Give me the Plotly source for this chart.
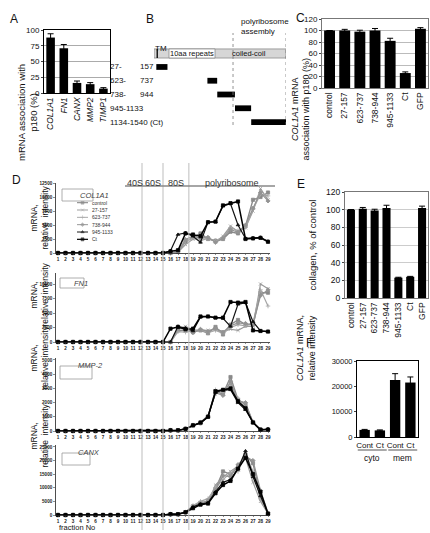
import plotly.graph_objects as go

W, H = 430, 533
FONT = "Liberation Sans, Arial, sans-serif"

def xp(px):
    return px / W

def yp(py):
    return 1 - py / H

# ---------------- DATA ----------------
# Panel A
a_genes = ["COL1A1", "FN1", "CANX", "MMP2", "TIMP1"]
a_vals = [88, 71, 16, 14, 7]
a_errs = [6, 6, 3, 2.5, 1.5]

# Panel B (residue numbers)
b_frag_start = [27, 623, 738, 945, 1134]
b_frag_end = [157, 737, 944, 1133, 1540]
b_label_start = ["27-", "623-", "738-", "945-1133", "1134-1540 (Ct)"]
b_label_end = ["157", "737", "944", "", ""]
b_protein_len = 1540
b_tm = [30, 45]
b_repeats = [175, 712]
b_assembly = [922, 1540]

# Panel C
c_cats = ["control", "27-157", "623-737", "738-944", "945-1133", "Ct", "GFP"]
c_vals = [100, 100, 98, 100, 82, 26, 103]
c_errs = [0, 2, 2.5, 3.5, 4.5, 2, 2]

# Panel E
e_cats = ["control", "27-157", "623-737", "738-944", "945-1133", "Ct", "GFP"]
e_vals = [100, 101, 99, 102, 23, 24, 102]
e_errs = [0, 1.5, 1.5, 3, 0.5, 0.5, 2]

# Panel F
f_labels = ["Cont", "Ct", "Cont", "Ct"]
f_groups = ["cyto", "mem"]
f_vals = [2800, 2600, 22500, 21500]
f_errs = [200, 200, 2500, 2200]

# Panel D
fractions = list(range(1, 30))
series = ["control", "27-157", "623-737", "738-944", "945-1133", "Ct"]
Z15 = [0] * 15

col1a1 = {
    "control":  Z15 + [0, 200, 2000, 2800, 3500, 2500, 2200, 2500, 3800, 3500, 4800, 9500, 10000, 10800],
    "27-157":   Z15 + [0, 150, 1500, 2500, 2800, 2700, 2000, 3000, 4800, 3800, 4500, 7500, 11500, 9500],
    "623-737":  Z15 + [0, 200, 2200, 2600, 2200, 2600, 2200, 2800, 4500, 4000, 4600, 7800, 10500, 10200],
    "738-944":  Z15 + [0, 250, 2400, 3000, 2600, 2800, 1900, 2600, 4200, 3700, 5000, 8000, 10800, 9300],
    "945-1133": Z15 + [400, 3300, 3600, 3000, 1900, 5500, 5600, 8400, 8800, 5000, 2600, 2700, 2800, 2100],
    "Ct":       Z15 + [300, 500, 3500, 3300, 3000, 5500, 5600, 8500, 8900, 9200, 2500, 2600, 2700, 2000],
}
fn1 = {
    "control":  Z15 + [0, 2000, 2000, 1700, 2000, 1500, 2600, 1300, 3000, 3800, 3000, 3000, 8500, 8500],
    "27-157":   Z15 + [0, 2200, 2700, 2100, 2000, 2000, 2200, 1800, 2200, 2000, 2700, 2700, 10000, 9200],
    "623-737":  Z15 + [0, 1800, 1700, 1900, 2100, 1600, 2000, 1500, 2500, 3000, 2800, 3300, 9000, 6200],
    "738-944":  Z15 + [0, 2400, 2200, 1600, 2200, 1800, 2400, 1700, 2800, 3300, 3200, 3000, 8000, 9000],
    "945-1133": Z15 + [0, 2700, 2400, 1900, 4300, 4400, 4200, 4100, 2700, 6500, 6800, 3500, 1900, 1800],
    "Ct":       Z15 + [2300, 2600, 2200, 2300, 4400, 4400, 4200, 4200, 6900, 6800, 6900, 2000, 1900, 1800],
}
mmp2 = {
    "control":  Z15 + [50, 50, 150, 400, 550, 1000, 2800, 2600, 3800, 2200, 1900, 600, 100, 100],
    "27-157":   Z15 + [50, 50, 150, 380, 600, 1100, 2600, 2900, 3300, 2000, 1700, 600, 100, 100],
    "623-737":  Z15 + [50, 50, 150, 420, 550, 1000, 2900, 2700, 3100, 2300, 1600, 650, 80, 120],
    "738-944":  Z15 + [50, 50, 150, 400, 600, 1050, 2700, 2500, 3500, 2100, 2000, 600, 100, 100],
    "945-1133": Z15 + [50, 50, 150, 400, 550, 1000, 2700, 2900, 2900, 2000, 1500, 600, 50, 150],
    "Ct":       Z15 + [50, 50, 150, 400, 600, 1000, 2800, 2900, 3000, 2100, 1600, 600, 100, 100],
}
canx = {
    "control":  Z15 + [300, 300, 1000, 3200, 4500, 5000, 9500, 16000, 15000, 17500, 22000, 19000, 7000, 500],
    "27-157":   Z15 + [300, 300, 1000, 2800, 4200, 4800, 11000, 14000, 16000, 18000, 21000, 12000, 5000, 500],
    "623-737":  Z15 + [300, 300, 1000, 3500, 5000, 6000, 10000, 13000, 15500, 16000, 22500, 16000, 6000, 500],
    "738-944":  Z15 + [300, 300, 1000, 3000, 4300, 5200, 9000, 14500, 14000, 18500, 21500, 20000, 9000, 800],
    "945-1133": Z15 + [300, 300, 1000, 3000, 4000, 4500, 8500, 12000, 13000, 17000, 23500, 14000, 7000, 500],
    "Ct":       Z15 + [300, 300, 1000, 2500, 3800, 4200, 8000, 11000, 12500, 17000, 21000, 15000, 8500, 500],
}
d_genes = ["COL1A1", "FN1", "MMP-2", "CANX"]
d_data = [col1a1, fn1, mmp2, canx]
d_ymax = [12500, 11900, 5140, 25700]
d_dtick = [2500, 2500, 1000, 5000]
d_bounds = [12.2, 15.0, 18.45]
d_regions = ["40S", "60S", "80S", "polyribosome"]

# ---------------- STYLE ----------------
sty = {
    "control":  dict(color="#8a8a8a", symbol="square", width=1.4),
    "27-157":   dict(color="#9a9a9a", symbol="x-thin-open", width=1.2),
    "623-737":  dict(color="#a5a5a5", symbol="cross-thin-open", width=1.2),
    "738-944":  dict(color="#939393", symbol="diamond", width=1.2),
    "945-1133": dict(color="#111111", symbol="triangle-up", width=1.2),
    "Ct":       dict(color="#000000", symbol="square", width=1.5),
}

fig = go.Figure()
layout = dict(width=W, height=H, autosize=False,
              margin=dict(l=0, r=0, t=0, b=0, pad=0, autoexpand=False),
              paper_bgcolor="white", plot_bgcolor="white", showlegend=False,
              font=dict(family=FONT, color="#111", size=8), bargap=0.35)
annotations = []
shapes = []

# ---------- Panel A ----------
fig.add_trace(go.Bar(x=a_genes, y=a_vals, marker_color="black", marker_line_width=0,
                     error_y=dict(type="data", array=a_errs, color="black", thickness=1, width=3),
                     xaxis="x", yaxis="y"))
layout["xaxis"] = dict(domain=[xp(44), xp(110)], anchor="y", tickangle=-90,
                       tickvals=a_genes, ticktext=[f"<i>{g}</i>" for g in a_genes],
                       tickfont=dict(size=8.5), showline=True, linecolor="black", mirror=True,
                       ticks="", fixedrange=True, automargin=False)
layout["yaxis"] = dict(domain=[yp(93), yp(30)], anchor="x", range=[0, 100], dtick=25,
                       showline=True, linecolor="black", mirror=True, showgrid=True,
                       gridcolor="#888", gridwidth=0.7, ticks="outside", ticklen=2,
                       tickfont=dict(size=8), zeroline=False, automargin=False)
annotations.append(dict(text="mRNA association with<br>p180 (%)", textangle=-90, x=xp(14), y=yp(62),
                        xref="paper", yref="paper", showarrow=False, font=dict(size=9.5)))

# ---------- Panel B ----------
fig.add_trace(go.Bar(orientation="h", y=list(range(1, 6)),
                     x=[e - s for s, e in zip(b_frag_start, b_frag_end)], base=b_frag_start,
                     width=0.42, marker_color="black", marker_line_width=0, xaxis="x2", yaxis="y2"))
layout["xaxis2"] = dict(domain=[xp(154), xp(286)], anchor="y2", range=[0, b_protein_len],
                        visible=False, fixedrange=True, automargin=False)
layout["yaxis2"] = dict(domain=[yp(130), yp(40)], anchor="x2", range=[5.58, -0.96],
                        visible=False, fixedrange=True, automargin=False)
shapes.append(dict(type="rect", xref="x2", yref="y2", x0=0, x1=b_protein_len, y0=-0.31, y1=0.35,
                   fillcolor="#d6d6d6", line=dict(color="#8a8a8a", width=0.8), layer="below"))
shapes.append(dict(type="rect", xref="x2", yref="y2", x0=b_repeats[0], x1=b_repeats[1], y0=-0.31, y1=0.35,
                   fillcolor="white", line=dict(color="#8a8a8a", width=0.8), layer="below"))
shapes.append(dict(type="rect", xref="x2", yref="y2", x0=b_tm[0], x1=b_tm[1], y0=-0.31, y1=0.35,
                   fillcolor="black", line=dict(width=0), layer="below"))
for xv in b_assembly:
    shapes.append(dict(type="line", xref="x2", yref="paper", x0=xv, x1=xv, y0=yp(125), y1=yp(33),
                       line=dict(color="#777", width=0.8, dash="dot")))
annotations.append(dict(text="10aa repeats", x=(b_repeats[0] + b_repeats[1]) / 2, y=0.02, xref="x2", yref="y2",
                        showarrow=False, borderpad=0, font=dict(size=7.5)))
annotations.append(dict(text="coiled-coil", x=1110, y=0.02, xref="x2", yref="y2",
                        showarrow=False, borderpad=0, font=dict(size=7.5)))
annotations.append(dict(text="TM", x=xp(154), y=yp(43), xref="paper", yref="paper", xanchor="left",
                        showarrow=False, borderpad=0, font=dict(size=8)))
annotations.append(dict(text="polyribosome<br>assembly", x=xp(240), y=yp(37), xref="paper", yref="paper",
                        xanchor="left", yanchor="bottom", align="left", showarrow=False, borderpad=0,
                        font=dict(size=8)))
for i, (ls, le) in enumerate(zip(b_label_start, b_label_end)):
    annotations.append(dict(text=ls, x=xp(108), y=i + 1, xref="paper", yref="y2", xanchor="left",
                            showarrow=False, font=dict(size=8)))
    if le:
        annotations.append(dict(text=le, x=xp(156), y=i + 1, xref="paper", yref="y2", xanchor="right",
                                showarrow=False, font=dict(size=8)))

# ---------- Panel C ----------
fig.add_trace(go.Bar(x=c_cats, y=c_vals, marker_color="black", marker_line_width=0, width=0.72,
                     error_y=dict(type="data", array=c_errs, color="black", thickness=1, width=3),
                     xaxis="x3", yaxis="y3"))
layout["xaxis3"] = dict(domain=[xp(322), xp(428)], anchor="y3", tickangle=-90, tickfont=dict(size=8.5),
                        showline=True, linecolor="#777", mirror=True, ticks="", fixedrange=True,
                        automargin=False)
layout["yaxis3"] = dict(domain=[yp(88), yp(19)], anchor="x3", range=[0, 120], dtick=20,
                        showline=True, linecolor="#777", mirror=True, showgrid=True, gridcolor="#bbb",
                        ticks="outside", ticklen=2, tickfont=dict(size=8), zeroline=False, automargin=False)
annotations.append(dict(text="<i>COL1A1</i> mRNA<br>association with p180 (%)", textangle=-90,
                        x=xp(314), y=yp(56), xref="paper", yref="paper", showarrow=False,
                        font=dict(size=9)))

# ---------- Panel E ----------
fig.add_trace(go.Bar(x=e_cats, y=e_vals, marker_color="black", marker_line_width=0, width=0.68,
                     error_y=dict(type="data", array=e_errs, color="black", thickness=1, width=3),
                     xaxis="x4", yaxis="y4"))
layout["xaxis4"] = dict(domain=[xp(345), xp(428)], anchor="y4", tickangle=-90, tickfont=dict(size=8.5),
                        showline=True, linecolor="#777", mirror=True, ticks="", fixedrange=True,
                        automargin=False)
layout["yaxis4"] = dict(domain=[yp(298), yp(192)], anchor="x4", range=[0, 120], dtick=20,
                        showline=True, linecolor="#777", mirror=True, showgrid=True, gridcolor="#ccc",
                        ticks="outside", ticklen=2, tickfont=dict(size=8.5), zeroline=False, automargin=False)
annotations.append(dict(text="collagen, % of control", textangle=-90,
                        x=xp(320), y=yp(245), xref="paper", yref="paper", showarrow=False,
                        font=dict(size=9.5)))

# ---------- Panel F ----------
fig.add_trace(go.Bar(x=list(range(4)), y=f_vals, marker_color="black", marker_line_width=0, width=0.68,
                     error_y=dict(type="data", array=f_errs, color="black", thickness=1, width=3),
                     xaxis="x5", yaxis="y5"))
layout["xaxis5"] = dict(domain=[xp(357), xp(418)], anchor="y5", range=[-0.5, 3.5],
                        tickvals=list(range(4)), ticktext=f_labels, tickfont=dict(size=8), tickangle=0,
                        showline=True, linecolor="black", mirror=True, ticks="", fixedrange=True,
                        automargin=False)
layout["yaxis5"] = dict(domain=[yp(437), yp(361)], anchor="x5", range=[0, 30000], dtick=10000,
                        tickformat="d", showline=True, linecolor="black", mirror=True, showgrid=False,
                        ticks="outside", ticklen=2, tickfont=dict(size=7.5), zeroline=False, automargin=False)
for gi, g in enumerate(f_groups):
    shapes.append(dict(type="line", xref="x5", yref="paper", x0=2 * gi - 0.45, x1=2 * gi + 1.45,
                       y0=yp(450), y1=yp(450), line=dict(color="#555", width=1)))
    annotations.append(dict(text=g, x=2 * gi + 0.5, y=yp(452), xref="x5", yref="paper", yanchor="top",
                            borderpad=0, showarrow=False, font=dict(size=8.5)))
annotations.append(dict(text="<i>COL1A1</i> mRNA,<br>relative intensity", textangle=-90,
                        x=xp(319), y=yp(383), xref="paper", yref="paper", showarrow=False,
                        font=dict(size=9)))

# ---------- Panel D ----------
d_top = [183, 273, 358, 445]
d_bot = [253, 342, 431, 515]
d_title_y = [218, 295, 392, 470]
d_box = [(62, 93, 189, 201), (60, 84, 278, 288), (60, 92, 366, 379), (62, 90, 453, 465)]
for k in range(4):
    ax = 6 + k
    for s in series:
        st = sty[s]
        fig.add_trace(go.Scatter(x=fractions, y=d_data[k][s], mode="lines+markers",
                                 line=dict(color=st["color"], width=st["width"]),
                                 marker=dict(symbol=st["symbol"], size=3.2, color=st["color"],
                                             line=dict(color=st["color"], width=0.8)),
                                 cliponaxis=False, xaxis=f"x{ax}", yaxis=f"y{ax}"))
    layout[f"xaxis{ax}"] = dict(domain=[xp(56), xp(270)], anchor=f"y{ax}", range=[0.733, 29.267],
                                tickvals=fractions, tickangle=0,
                                tickfont=dict(size=4.6, color="#222", weight="bold"),
                                ticks="outside", ticklen=1.5, tickwidth=0.6, showline=True,
                                linecolor="#222", linewidth=0.8, showgrid=False, zeroline=False,
                                fixedrange=True, automargin=False)
    layout[f"yaxis{ax}"] = dict(domain=[yp(d_bot[k]), yp(d_top[k])], anchor=f"x{ax}",
                                range=[0, d_ymax[k]], dtick=d_dtick[k], tickformat="d",
                                tickfont=dict(size=4.6, color="#222", weight="bold"),
                                ticks="outside", ticklen=2, tickwidth=0.6, showline=True,
                                linecolor="#222", linewidth=0.8, showgrid=False, zeroline=False,
                                fixedrange=True, automargin=False)
    x0, x1, y0, y1 = d_box[k]
    shapes.append(dict(type="rect", xref="paper", yref="paper", x0=xp(x0), x1=xp(x1), y0=yp(y1), y1=yp(y0),
                       line=dict(color="#999", width=0.8), fillcolor="white"))
    annotations.append(dict(text=f"<i>{d_genes[k]}</i>", x=xp((x0 + x1) / 2), y=yp((y0 + y1) / 2),
                            xref="paper", yref="paper", showarrow=False, font=dict(size=7.5, color="#444")))
    annotations.append(dict(text="mRNA,<br>relative  intensity", textangle=-90, x=xp(26), y=yp(d_title_y[k]),
                            xref="paper", yref="paper", showarrow=False, font=dict(size=8.5)))

for b in d_bounds:
    shapes.append(dict(type="line", xref="x6", yref="paper", x0=b, x1=b, y0=yp(530), y1=yp(163),
                       line=dict(color="#bdbdbd", width=1)))
shapes.append(dict(type="line", xref="paper", yref="paper", x0=xp(125), x1=xp(275), y0=yp(186), y1=yp(186),
                   line=dict(color="#888", width=1.5)))
reg_edges = [10.4] + d_bounds + [29.9]
for i, r in enumerate(d_regions):
    annotations.append(dict(text=r, x=(reg_edges[i] + reg_edges[i + 1]) / 2, y=yp(176), xref="x6",
                            yref="paper", showarrow=False, font=dict(size=9, color="#333")))
annotations.append(dict(text="fraction No", x=xp(58), y=0, xref="paper", yref="paper",
                        xanchor="left", yanchor="bottom", borderpad=0, showarrow=False,
                        font=dict(size=7.5)))

# legend for D (overlay axis)
layout["xaxis10"] = dict(domain=[xp(75), xp(125)], anchor="y10", range=[0, 1], visible=False,
                         fixedrange=True, automargin=False)
layout["yaxis10"] = dict(domain=[yp(243), yp(199)], anchor="x10", range=[0, 1], visible=False,
                         fixedrange=True, automargin=False)
n = len(series)
for i, s in enumerate(series):
    st = sty[s]
    yv = 1 - (i + 0.5) / n
    fig.add_trace(go.Scatter(x=[0.04, 0.15, 0.26], y=[yv] * 3, mode="lines+markers",
                             line=dict(color=st["color"], width=st["width"] * 0.8),
                             marker=dict(symbol=st["symbol"], size=[0, 3, 0], color=st["color"],
                                         line=dict(color=st["color"], width=0.6)),
                             xaxis="x10", yaxis="y10", hoverinfo="skip"))
    annotations.append(dict(text=s, x=0.29, y=yv, xref="x10", yref="y10", xanchor="left",
                            showarrow=False, font=dict(size=5, color="#333")))

# panel letters
for t, x, y in [("A", 8, 10), ("B", 150, 10), ("C", 307, 9), ("D", 10, 180), ("E", 307, 175), ("F", 315, 343)]:
    annotations.append(dict(text=t, x=xp(x), y=yp(y), xref="paper", yref="paper", showarrow=False,
                            font=dict(size=12, color="#111")))

layout["annotations"] = annotations
layout["shapes"] = shapes
fig.update_layout(**layout)
fig.write_html("out.html", config={"displayModeBar": False, "staticPlot": True},
               post_script="document.body.style.margin='0';document.body.style.overflow='hidden';")
